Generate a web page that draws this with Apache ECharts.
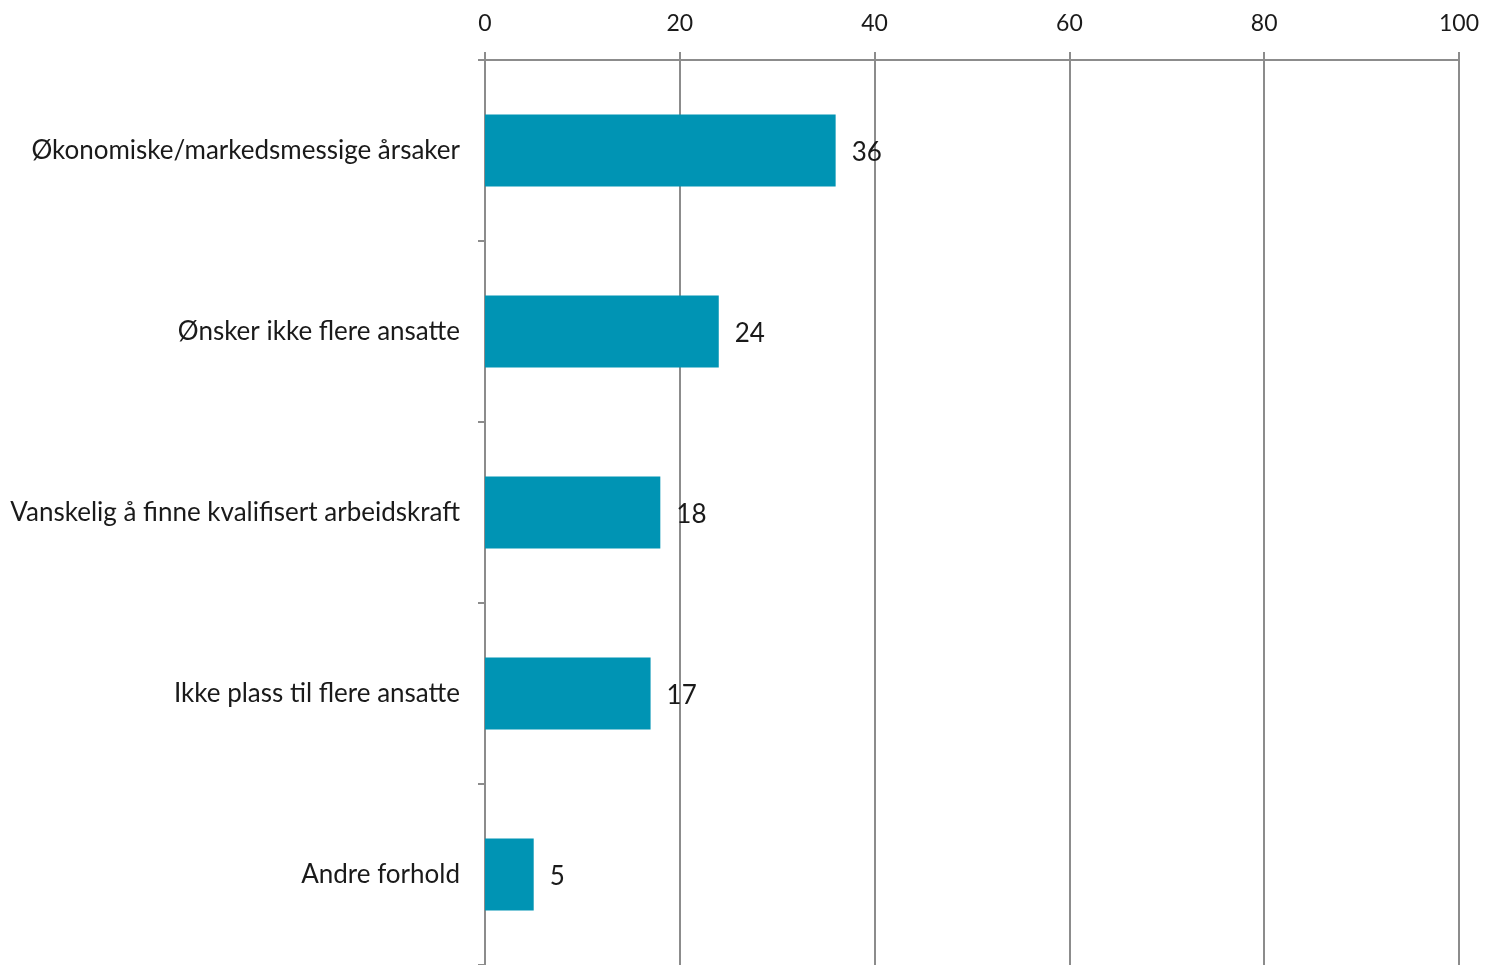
<!DOCTYPE html>
<html>
<head>
<meta charset="utf-8">
<script src="https://cdn.jsdelivr.net/npm/echarts@6/dist/echarts.min.js"></script>
<style>
html,body{margin:0;padding:0;background:#fff;}
#chart{width:1486px;height:965px;}
</style>
</head>
<body>
<div id="chart"></div>
<script>
const categories = [
  'Økonomiske/markedsmessige årsaker',
  'Ønsker ikke flere ansatte',
  'Vanskelig å finne kvalifisert arbeidskraft',
  'Ikke plass til flere ansatte',
  'Andre forhold'
];
const values = [36, 24, 18, 17, 5];
const axisTicks = [0, 20, 40, 60, 80, 100];

const FONT = 'Lato';
const GRAY = '#8c8c8c';
const chart = echarts.init(document.getElementById('chart'), null, {renderer: 'canvas'});
chart.setOption({
  animation: false,
  backgroundColor: '#ffffff',
  grid: {left: 485, right: 27, top: 60, height: 910, containLabel: false},
  xAxis: {
    type: 'value',
    position: 'top',
    min: axisTicks[0],
    max: axisTicks[axisTicks.length - 1],
    interval: axisTicks[1] - axisTicks[0],
    axisLine: {show: true, lineStyle: {color: GRAY, width: 2}},
    axisTick: {show: true, length: 8, lineStyle: {color: GRAY, width: 2}},
    splitLine: {show: true, lineStyle: {color: GRAY, width: 2}},
    axisLabel: {margin: 25, fontFamily: FONT, fontSize: 23, color: '#1a1a1a'}
  },
  yAxis: {
    type: 'category',
    inverse: true,
    data: categories,
    axisLine: {show: true, lineStyle: {color: GRAY, width: 2}},
    axisTick: {show: true, length: 7, lineStyle: {color: GRAY, width: 2}},
    axisLabel: {margin: 25, fontFamily: FONT, fontSize: 26, color: '#1a1a1a'}
  },
  series: [{
    type: 'bar',
    data: values,
    barWidth: 72,
    itemStyle: {color: '#0094b4'},
    label: {
      show: true,
      position: 'right',
      distance: 16,
      offset: [0, 2],
      fontFamily: FONT,
      fontSize: 26,
      color: '#1a1a1a'
    }
  }]
});
</script>
</body>
</html>
